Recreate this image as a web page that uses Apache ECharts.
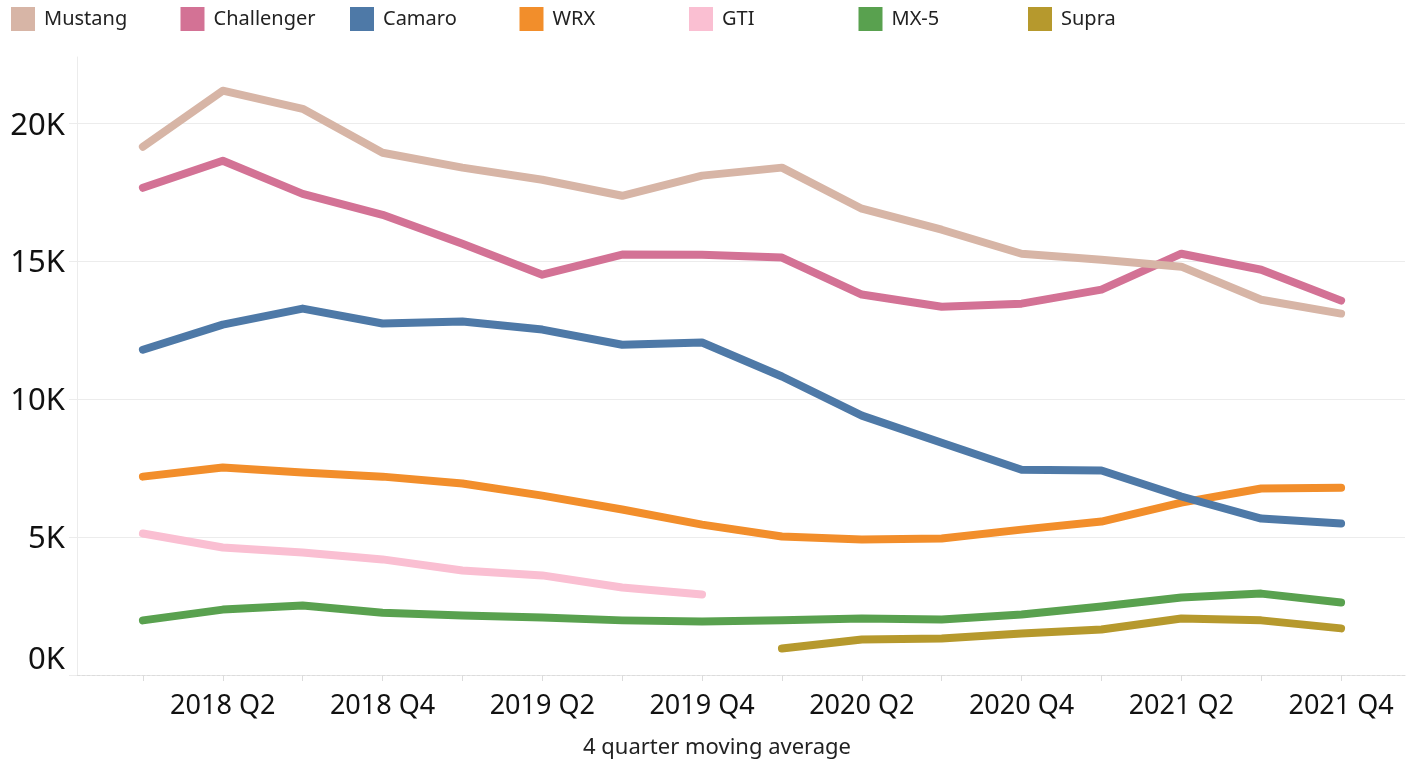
<!DOCTYPE html>
<html>
<head>
<meta charset="utf-8">
<script src="https://cdn.jsdelivr.net/npm/echarts@6/dist/echarts.min.js"></script>
<style>
  html, body { margin: 0; padding: 0; background: #fff; }
  #chart { width: 1419px; height: 759px; }
</style>
</head>
<body>
<div id="chart"></div>
<script>
// quarters on the x axis
var quarters = ['2018 Q1', '2018 Q2', '2018 Q3', '2018 Q4', '2019 Q1', '2019 Q2', '2019 Q3', '2019 Q4',
                '2020 Q1', '2020 Q2', '2020 Q3', '2020 Q4', '2021 Q1', '2021 Q2', '2021 Q3', '2021 Q4'];

// 4 quarter moving average, units
var mustang    = [19150, 21180, 20520, 18930, 18390, 17950, 17370, 18100, 18390, 16900, 16140, 15270, 15050, 14800, 13600, 13100];
var challenger = [17660, 18640, 17440, 16680, 15630, 14510, 15240, 15230, 15130, 13790, 13350, 13460, 13970, 15270, 14690, 13570];
var camaro     = [11790, 12700, 13280, 12740, 12810, 12520, 11970, 12050, 10820, 9400, 8420, 7440, 7410, 6470, 5670, 5490];
var wrx        = [7190, 7520, 7340, 7190, 6940, 6500, 6000, 5450, 5020, 4910, 4950, 5270, 5560, 6250, 6760, 6790];
var gti        = [5130, 4620, 4440, 4190, 3790, 3610, 3170, 2920];
var mx5        = [1980, 2370, 2520, 2260, 2160, 2080, 1980, 1940, 1980, 2050, 2010, 2190, 2480, 2810, 2950, 2630];
var supra      = [null, null, null, null, null, null, null, null, 960, 1290, 1320, 1500, 1650, 2050, 1980, 1690];

var names  = ['Mustang', 'Challenger', 'Camaro', 'WRX', 'GTI', 'MX-5', 'Supra'];
var colors = ['#D7B5A6', '#D37295', '#4E79A7', '#F28E2B', '#FABFD2', '#59A14F', '#B6992D'];
var values = [mustang, challenger, camaro, wrx, gti, mx5, supra];

var yTicks = [0, 5000, 10000, 15000, 20000];
var xTicks = quarters.map(function (q, i) { return i; });
var xLabels = xTicks.filter(function (i) { return i % 2 == 1; });

var font = '"Noto Sans", "Open Sans", sans-serif';

function toPoints(arr) {
  var out = [];
  arr.forEach(function (v, i) {
    if (v != null) out.push([i, v]);
  });
  return out;
}

var series = names.map(function (name, k) {
  return {
    name: name,
    type: 'line',
    data: toPoints(values[k]),
    showSymbol: false,
    symbol: 'none',
    z: 10 - k,
    lineStyle: { width: 8, color: colors[k], cap: 'round', join: 'round' },
    itemStyle: { color: colors[k] }
  };
});

// one legend per item so the spacing is even, like the original
var legends = names.map(function (name, k) {
  return {
    top: 7,
    left: 11 + k * 169.5,
    padding: 0,
    itemWidth: 24,
    itemHeight: 24,
    icon: 'rect',
    data: [name],
    textStyle: { fontFamily: font, fontSize: 20, color: '#222', padding: [3, 0, 0, 4] }
  };
});

var chart = echarts.init(document.getElementById('chart'));
chart.setOption({
  animation: false,
  backgroundColor: '#fff',
  legend: legends,
  grid: { left: 77, right: 14, top: 57, bottom: 84, containLabel: false, outerBoundsMode: 'none' },
  xAxis: {
    type: 'value',
    min: -0.825,
    max: 15.8,
    name: '4 quarter moving average',
    nameLocation: 'middle',
    nameGap: 62,
    nameTextStyle: { fontFamily: font, fontSize: 22, color: '#222', padding: [0, 48, 0, 0] },
    axisLine: { show: true, lineStyle: { color: '#dcdcdc', width: 1, type: [3, 2] } },
    axisTick: { show: true, length: 6, customValues: xTicks, lineStyle: { color: '#dcdcdc' } },
    axisLabel: {
      customValues: xLabels,
      margin: 18,
      fontFamily: font,
      fontSize: 27,
      color: '#111',
      formatter: function (v) { return quarters[Math.round(v)]; }
    },
    splitLine: { show: false }
  },
  yAxis: {
    type: 'value',
    min: 0,
    max: 22400,
    axisLine: { show: true, onZero: false, lineStyle: { color: '#ececec', width: 1 } },
    axisTick: { show: true, length: 8, customValues: yTicks, lineStyle: { color: '#ececec' } },
    axisLabel: {
      customValues: yTicks,
      margin: 12,
      fontFamily: font,
      fontSize: 31,
      color: '#111',
      formatter: function (v) {
        return v == 0 ? '{z|0K}' : '{n|' + (v / 1000) + 'K}';
      },
      rich: {
        n: { fontFamily: font, fontSize: 31, color: '#111', padding: [5, 0, 0, 0] },
        z: { fontFamily: font, fontSize: 31, color: '#111', padding: [0, 0, 30, 0] }
      }
    },
    splitLine: { show: true, lineStyle: { color: '#ececec', width: 1 } }
  },
  series: series
});
</script>
</body>
</html>
